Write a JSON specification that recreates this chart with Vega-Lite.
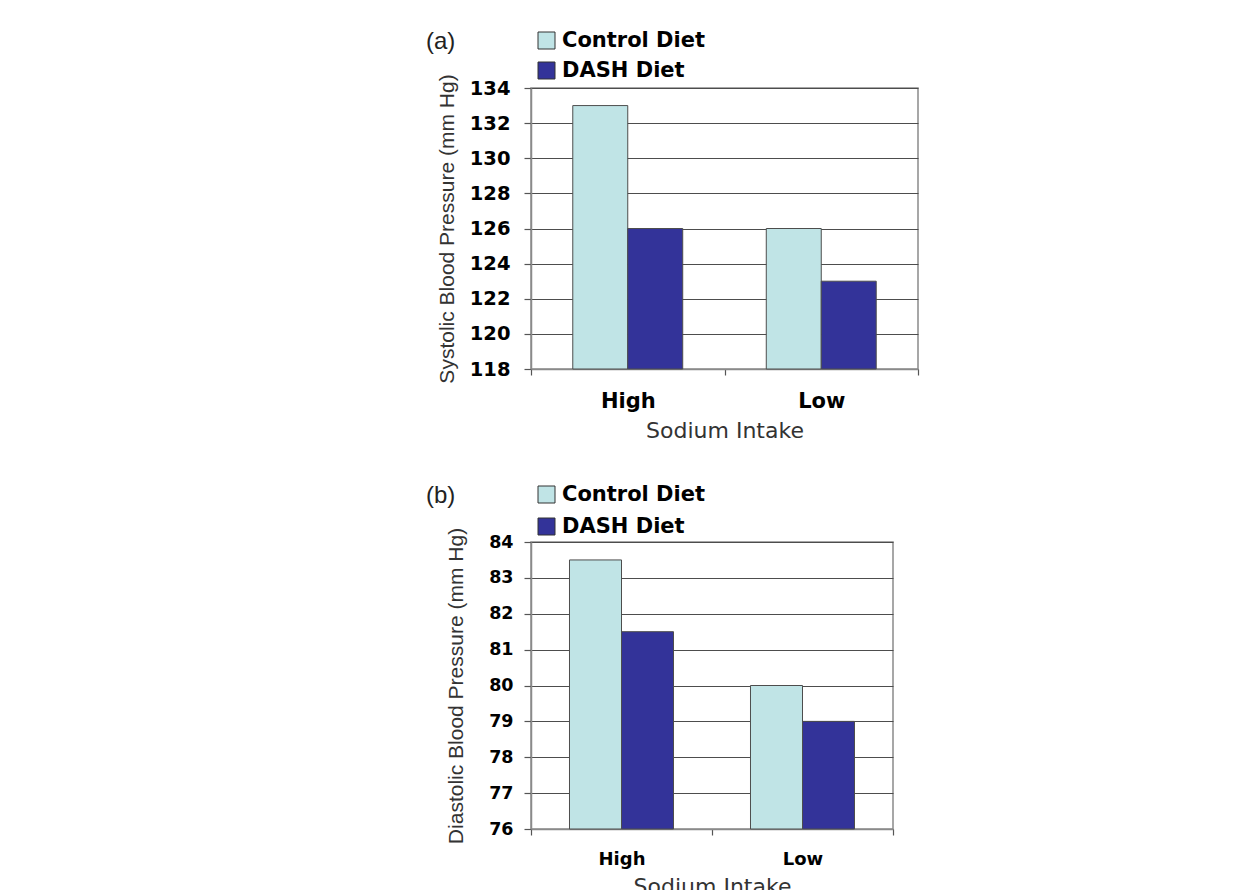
{
  "$schema": "https://vega.github.io/schema/vega-lite/v6.json",
  "autosize": {"type": "pad"},
  "padding": {"left": 425, "top": 29, "right": 10, "bottom": 5},
  "background": "white",
  "bounds": "flush",
  "spacing": 173,
  "datasets": {
    "a": [
      {"sodium": "High", "diet": "Control Diet", "bp": 133},
      {"sodium": "High", "diet": "DASH Diet", "bp": 126},
      {"sodium": "Low", "diet": "Control Diet", "bp": 126},
      {"sodium": "Low", "diet": "DASH Diet", "bp": 123}
    ],
    "b": [
      {"sodium": "High", "diet": "Control Diet", "bp": 83.5},
      {"sodium": "High", "diet": "DASH Diet", "bp": 81.5},
      {"sodium": "Low", "diet": "Control Diet", "bp": 80},
      {"sodium": "Low", "diet": "DASH Diet", "bp": 79}
    ]
  },
  "resolve": {
    "scale": {"x": "independent", "y": "independent", "color": "independent", "xOffset": "independent"},
    "legend": {"color": "independent"},
    "axis": {"x": "independent", "y": "independent"}
  },
  "config": {
    "view": {"stroke": "#8a8a8a", "strokeWidth": 1.5},
    "axis": {
      "domainColor": "#8a8a8a",
      "domainWidth": 1.5,
      "tickColor": "#555555",
      "tickWidth": 1.2,
      "labelColor": "#000000",
      "titleColor": "#333333",
      "titleFontWeight": "normal"
    },
    "legend": {"padding": 0}
  },
  "vconcat": [
    {
      "width": 387,
      "height": 281,
      "data": {"name": "a"},
      "mark": {"type": "bar", "stroke": "#4d4d4d", "strokeWidth": 1},
      "encoding": {
        "x": {
          "field": "sodium", "type": "nominal", "sort": ["High", "Low"],
          "scale": {"paddingInner": 0, "paddingOuter": 0},
          "axis": {
            "tickBand": "extent", "labelAngle": 0, "grid": false,
            "labelFont": "DejaVu Sans", "labelFontWeight": "bold", "labelFontSize": 21,
            "labelPadding": 15, "tickSize": 6,
            "title": "Sodium Intake", "titleFont": "DejaVu Sans", "titleFontSize": 22, "titlePadding": 9
          }
        },
        "xOffset": {
          "field": "diet", "type": "nominal", "sort": ["Control Diet", "DASH Diet"],
          "scale": {"paddingInner": 0, "paddingOuter": 0.76}
        },
        "y": {
          "field": "bp", "type": "quantitative",
          "scale": {"domain": [118, 134], "zero": false, "nice": false},
          "axis": {
            "values": [118, 120, 122, 124, 126, 128, 130, 132, 134],
            "grid": true, "gridColor": "#4d4d4d", "gridWidth": 1.2,
            "labelFont": "DejaVu Sans", "labelFontWeight": "bold", "labelFontSize": 19.5,
            "labelPadding": 14, "tickSize": 7,
            "title": "Systolic Blood Pressure (mm Hg)", "titleFont": "Liberation Sans", "titleFontSize": 21, "titlePadding": 12
          }
        },
        "y2": {"datum": 118},
        "color": {
          "field": "diet", "type": "nominal", "sort": ["Control Diet", "DASH Diet"],
          "scale": {"range": ["#c0e4e6", "#333399"]},
          "legend": {
            "orient": "none", "legendX": -105, "legendY": -58, "direction": "vertical",
            "title": "(a)", "titleOrient": "left", "titleAngle": 0, "titleAnchor": "start", "titleBaseline": "top",
            "titleFont": "Liberation Sans", "titleFontSize": 24, "titleFontWeight": "normal", "titleColor": "#222222", "titlePadding": 80,
            "labelFont": "DejaVu Sans", "labelFontWeight": "bold", "labelFontSize": 21, "labelColor": "#000000", "labelOffset": 5,
            "symbolType": "square", "symbolSize": 289, "symbolStrokeColor": "#333333", "symbolStrokeWidth": 1, "symbolOpacity": 1,
            "rowPadding": 8
          }
        }
      }
    },
    {
      "width": 362,
      "height": 287,
      "data": {"name": "b"},
      "mark": {"type": "bar", "stroke": "#4d4d4d", "strokeWidth": 1},
      "encoding": {
        "x": {
          "field": "sodium", "type": "nominal", "sort": ["High", "Low"],
          "scale": {"paddingInner": 0, "paddingOuter": 0},
          "axis": {
            "tickBand": "extent", "labelAngle": 0, "grid": false,
            "labelFont": "DejaVu Sans", "labelFontWeight": "bold", "labelFontSize": 18,
            "labelPadding": 15, "tickSize": 6,
            "title": "Sodium Intake", "titleFont": "DejaVu Sans", "titleFontSize": 22, "titlePadding": 8
          }
        },
        "xOffset": {
          "field": "diet", "type": "nominal", "sort": ["Control Diet", "DASH Diet"],
          "scale": {"paddingInner": 0, "paddingOuter": 0.74}
        },
        "y": {
          "field": "bp", "type": "quantitative",
          "scale": {"domain": [76, 84], "zero": false, "nice": false},
          "axis": {
            "values": [76, 77, 78, 79, 80, 81, 82, 83, 84],
            "grid": true, "gridColor": "#4d4d4d", "gridWidth": 1.2,
            "labelFont": "DejaVu Sans", "labelFontWeight": "bold", "labelFontSize": 17.5,
            "labelPadding": 11, "tickSize": 7,
            "title": "Diastolic Blood Pressure (mm Hg)", "titleFont": "Liberation Sans", "titleFontSize": 21, "titlePadding": 22
          }
        },
        "y2": {"datum": 76},
        "color": {
          "field": "diet", "type": "nominal", "sort": ["Control Diet", "DASH Diet"],
          "scale": {"range": ["#c0e4e6", "#333399"]},
          "legend": {
            "orient": "none", "legendX": -105, "legendY": -58, "direction": "vertical",
            "title": "(b)", "titleOrient": "left", "titleAngle": 0, "titleAnchor": "start", "titleBaseline": "top",
            "titleFont": "Liberation Sans", "titleFontSize": 24, "titleFontWeight": "normal", "titleColor": "#222222", "titlePadding": 80,
            "labelFont": "DejaVu Sans", "labelFontWeight": "bold", "labelFontSize": 21, "labelColor": "#000000", "labelOffset": 5,
            "symbolType": "square", "symbolSize": 289, "symbolStrokeColor": "#333333", "symbolStrokeWidth": 1, "symbolOpacity": 1,
            "rowPadding": 10
          }
        }
      }
    }
  ]
}
